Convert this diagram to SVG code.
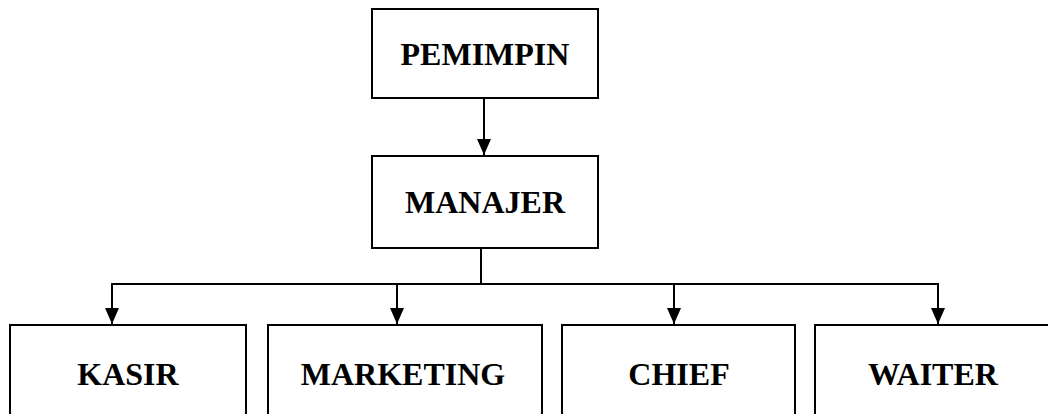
<svg xmlns="http://www.w3.org/2000/svg" width="1048" height="414" viewBox="0 0 1048 414">
<style>
.box{fill:#fff;stroke:#000;stroke-width:2}
.lbl{font-family:"Liberation Serif","Times New Roman",serif;font-weight:bold;font-size:32px;fill:#000;text-anchor:middle}
.con{fill:none;stroke:#000;stroke-width:2}
</style>
<defs>
<marker id="arr" viewBox="0 0 16 14" refX="16" refY="7" markerWidth="16" markerHeight="14" markerUnits="userSpaceOnUse" orient="auto">
<path d="M0,0 L16,7 L0,14 Z" fill="#000"/>
</marker>
</defs>
<rect width="1048" height="414" fill="#fff"/>
<g id="connectors">
<line class="con" x1="484" y1="98" x2="484" y2="155" marker-end="url(#arr)"/>
<line class="con" x1="481" y1="248" x2="481" y2="284"/>
<polyline class="con" points="112,284 938,284"/>
<line class="con" x1="112" y1="283" x2="112" y2="324" marker-end="url(#arr)"/>
<line class="con" x1="397" y1="284" x2="397" y2="324" marker-end="url(#arr)"/>
<line class="con" x1="674" y1="284" x2="674" y2="324" marker-end="url(#arr)"/>
<line class="con" x1="938" y1="283" x2="938" y2="324" marker-end="url(#arr)"/>
</g>
<g id="pemimpin"><rect class="box" x="372" y="9" width="226" height="89"/><text class="lbl" x="485" y="65">PEMIMPIN</text></g>
<g id="manajer"><rect class="box" x="372" y="156" width="226" height="92"/><text class="lbl" x="485" y="213">MANAJER</text></g>
<g id="kasir"><rect class="box" x="10" y="325" width="236" height="100"/><text class="lbl" x="128" y="385">KASIR</text></g>
<g id="marketing"><rect class="box" x="268" y="325" width="274" height="100"/><text class="lbl" x="403" y="385">MARKETING</text></g>
<g id="chief"><rect class="box" x="562" y="325" width="233" height="100"/><text class="lbl" x="679" y="385">CHIEF</text></g>
<g id="waiter"><rect class="box" x="815" y="325" width="240" height="100"/><text class="lbl" x="933" y="385">WAITER</text></g>
</svg>
